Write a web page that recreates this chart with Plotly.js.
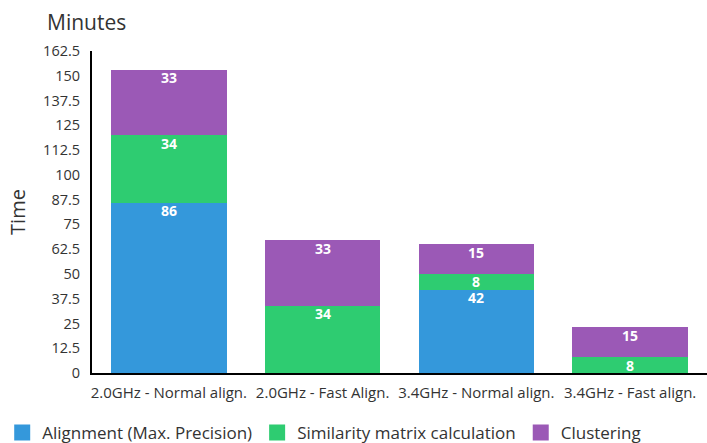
<!DOCTYPE html>
<html>
<head>
<meta charset="utf-8">
<script src="https://cdn.plot.ly/plotly-3.0.1.min.js"></script>
<style>html,body{margin:0;padding:0;background:#fff;}#chart{width:707px;height:443px;}</style>
</head>
<body>
<div id="chart"></div>
<script>
var categories = ["2.0GHz - Normal align.", "2.0GHz - Fast Align.", "3.4GHz - Normal align.", "3.4GHz - Fast align."];
var alignment = [86, 0, 42, 0];
var similarity = [34, 34, 8, 8];
var clustering = [33, 33, 15, 15];
var seriesNames = ["Alignment (Max. Precision)", "Similarity matrix calculation", "Clustering"];
var colors = ["#3498db", "#2ecc71", "#9b59b6"];
var yTicks = [0, 12.5, 25, 37.5, 50, 62.5, 75, 87.5, 100, 112.5, 125, 137.5, 150, 162.5];

var series = [alignment, similarity, clustering];

function mk(vals, i) {
  return {
    type: "bar",
    name: seriesNames[i],
    x: categories,
    y: vals,
    marker: { color: colors[i], line: { width: 0 } },
    showlegend: false,
    hoverinfo: "skip"
  };
}

// legend-only entries (no data marks) so the legend squares can be larger
function legendEntry(i) {
  return {
    type: "scatter",
    mode: "markers",
    name: seriesNames[i],
    x: [null],
    y: [null],
    marker: { symbol: "square", size: 16, color: colors[i] },
    showlegend: true,
    hoverinfo: "skip"
  };
}

var data = series.map(mk).concat([legendEntry(0), legendEntry(1), legendEntry(2)]);

// value labels at the top of each stacked segment (placed through the y axis scale)
var annotations = [];
categories.forEach(function (c, ci) {
  var cum = 0;
  series.forEach(function (vals) {
    var v = vals[ci];
    cum += v;
    if (v) {
      annotations.push({
        x: c, y: cum, xref: "x", yref: "y",
        text: "<b>" + v + "</b>",
        showarrow: false,
        xanchor: "center", yanchor: "middle", yshift: -8,
        font: { family: "Open Sans, sans-serif", size: 14, color: "#ffffff" }
      });
    }
  });
});

annotations.push({
  text: "Minutes", xref: "paper", yref: "paper",
  x: (86.5 - 92) / 615, y: 1, xanchor: "center", yanchor: "middle", yshift: 29,
  showarrow: false, font: { size: 21, color: "#333333" }
});

var layout = {
  width: 707,
  height: 443,
  barmode: "stack",
  bargap: 0.25,
  paper_bgcolor: "#ffffff",
  plot_bgcolor: "#ffffff",
  margin: { l: 92, r: 0, t: 51, b: 70, autoexpand: false },
  font: { family: "Open Sans, sans-serif", size: 14, color: "#333333" },
  xaxis: {
    type: "category",
    showline: true, linecolor: "#000000", linewidth: 2,
    showgrid: false, zeroline: false, ticks: "",
    ticklabelstandoff: 5,
    tickfont: { size: 15, color: "#333333" }
  },
  yaxis: {
    range: [0, 162.5],
    tickvals: yTicks,
    ticktext: yTicks.map(String),
    showline: true, linecolor: "#000000", linewidth: 2,
    showgrid: false, zeroline: false, ticks: "",
    ticklabelstandoff: 7,
    tickfont: { size: 14.5, color: "#333333" },
    title: { text: "Time", font: { size: 20, color: "#333333" }, standoff: 12 }
  },
  legend: {
    orientation: "h",
    x: -0.146, xanchor: "left",
    y: -0.186, yanchor: "middle",
    font: { size: 17, color: "#333333" },
    traceorder: "normal"
  },
  annotations: annotations
};

Plotly.newPlot("chart", data, layout, { displayModeBar: false, staticPlot: true });
</script>
</body>
</html>
